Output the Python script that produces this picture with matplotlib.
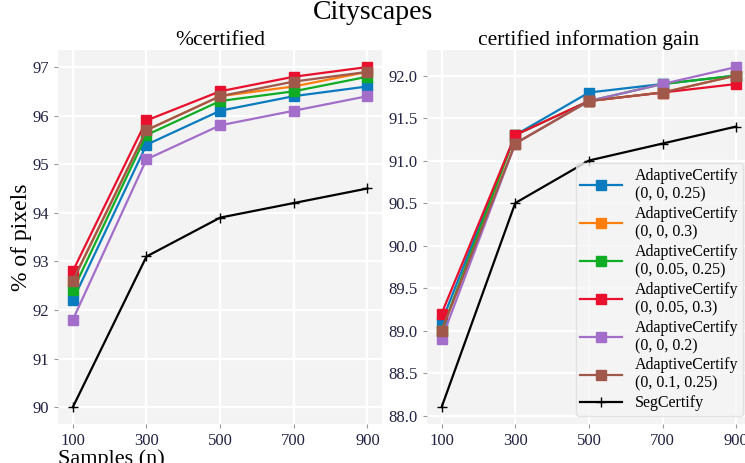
import matplotlib.pyplot as plt

plt.rcParams['font.family'] = ['Liberation Serif', 'DejaVu Serif']

samples = [100, 300, 500, 700, 900]

labels = [
    "AdaptiveCertify\n(0, 0, 0.25)",
    "AdaptiveCertify\n(0, 0, 0.3)",
    "AdaptiveCertify\n(0, 0.05, 0.25)",
    "AdaptiveCertify\n(0, 0.05, 0.3)",
    "AdaptiveCertify\n(0, 0, 0.2)",
    "AdaptiveCertify\n(0, 0.1, 0.25)",
]
colors = ["#0a7bbf", "#ff7f0e", "#10ac24", "#e8102c", "#a36ec9", "#a0584a"]

# %certified
cert_a025 = [92.2, 95.4, 96.1, 96.4, 96.6]
cert_a03 = [92.6, 95.7, 96.4, 96.6, 96.9]
cert_b025 = [92.4, 95.6, 96.3, 96.5, 96.8]
cert_b03 = [92.8, 95.9, 96.5, 96.8, 97.0]
cert_a02 = [91.8, 95.1, 95.8, 96.1, 96.4]
cert_c025 = [92.6, 95.7, 96.4, 96.7, 96.9]
cert_seg = [90.0, 93.1, 93.9, 94.2, 94.5]

# certified information gain
gain_a025 = [89.1, 91.3, 91.8, 91.9, 92.0]
gain_a03 = [89.0, 91.2, 91.7, 91.8, 92.0]
gain_b025 = [89.0, 91.3, 91.7, 91.9, 92.0]
gain_b03 = [89.2, 91.3, 91.7, 91.8, 91.9]
gain_a02 = [88.9, 91.2, 91.7, 91.9, 92.1]
gain_c025 = [89.0, 91.2, 91.7, 91.8, 92.0]
gain_seg = [88.1, 90.5, 91.0, 91.2, 91.4]

cert = [cert_a025, cert_a03, cert_b025, cert_b03, cert_a02, cert_c025]
gain = [gain_a025, gain_a03, gain_b025, gain_b03, gain_a02, gain_c025]

fig = plt.figure(figsize=(7.45, 4.63), dpi=100)
ax1 = fig.add_axes([0.078, 0.084, 0.435, 0.808])
ax2 = fig.add_axes([0.573, 0.084, 0.435, 0.808])


def style(ax):
    ax.set_facecolor("#f3f3f3")
    ax.grid(True, color="white", linewidth=1.6)
    ax.set_axisbelow(True)
    for s in ax.spines.values():
        s.set_visible(False)
    ax.tick_params(axis="both", labelsize=12, colors="#999999", length=3,
                   labelcolor="#222244")
    ax.set_xticks(samples)


for ax, series, seg in [(ax1, cert, cert_seg), (ax2, gain, gain_seg)]:
    style(ax)
    for vals, c, lab in zip(series, colors, labels):
        ax.plot(samples, vals, color=c, marker="s", markersize=6.5, linewidth=1.6, label=lab)
    ax.plot(samples, seg, color="black", marker="+", markersize=7, linewidth=1.6, label="SegCertify")

ax1.set_title("%certified", fontsize=15.5, pad=3)
ax2.set_title("certified information gain", fontsize=15.5, pad=3)
ax1.set_ylabel("% of pixels", fontsize=17, labelpad=0)
ax1.set_xlabel("Samples (n)", fontsize=16, loc="left", labelpad=0)
ax2.set_yticks([88.0, 88.5, 89.0, 89.5, 90.0, 90.5, 91.0, 91.5, 92.0])
ax2.set_yticklabels([f"{v:.1f}" for v in ax2.get_yticks()])

leg = ax2.legend(loc="lower right", fontsize=11.5, frameon=True, handlelength=2.6,
                 labelspacing=0.22, borderpad=0.3, handletextpad=0.8,
                 bbox_to_anchor=(1.0, 0.0))
leg.get_frame().set_facecolor("#f5f5f5")
leg.get_frame().set_edgecolor("#dddddd")

fig.suptitle("Cityscapes", fontsize=20, y=1.0)

fig.savefig("out.png", dpi=100)
